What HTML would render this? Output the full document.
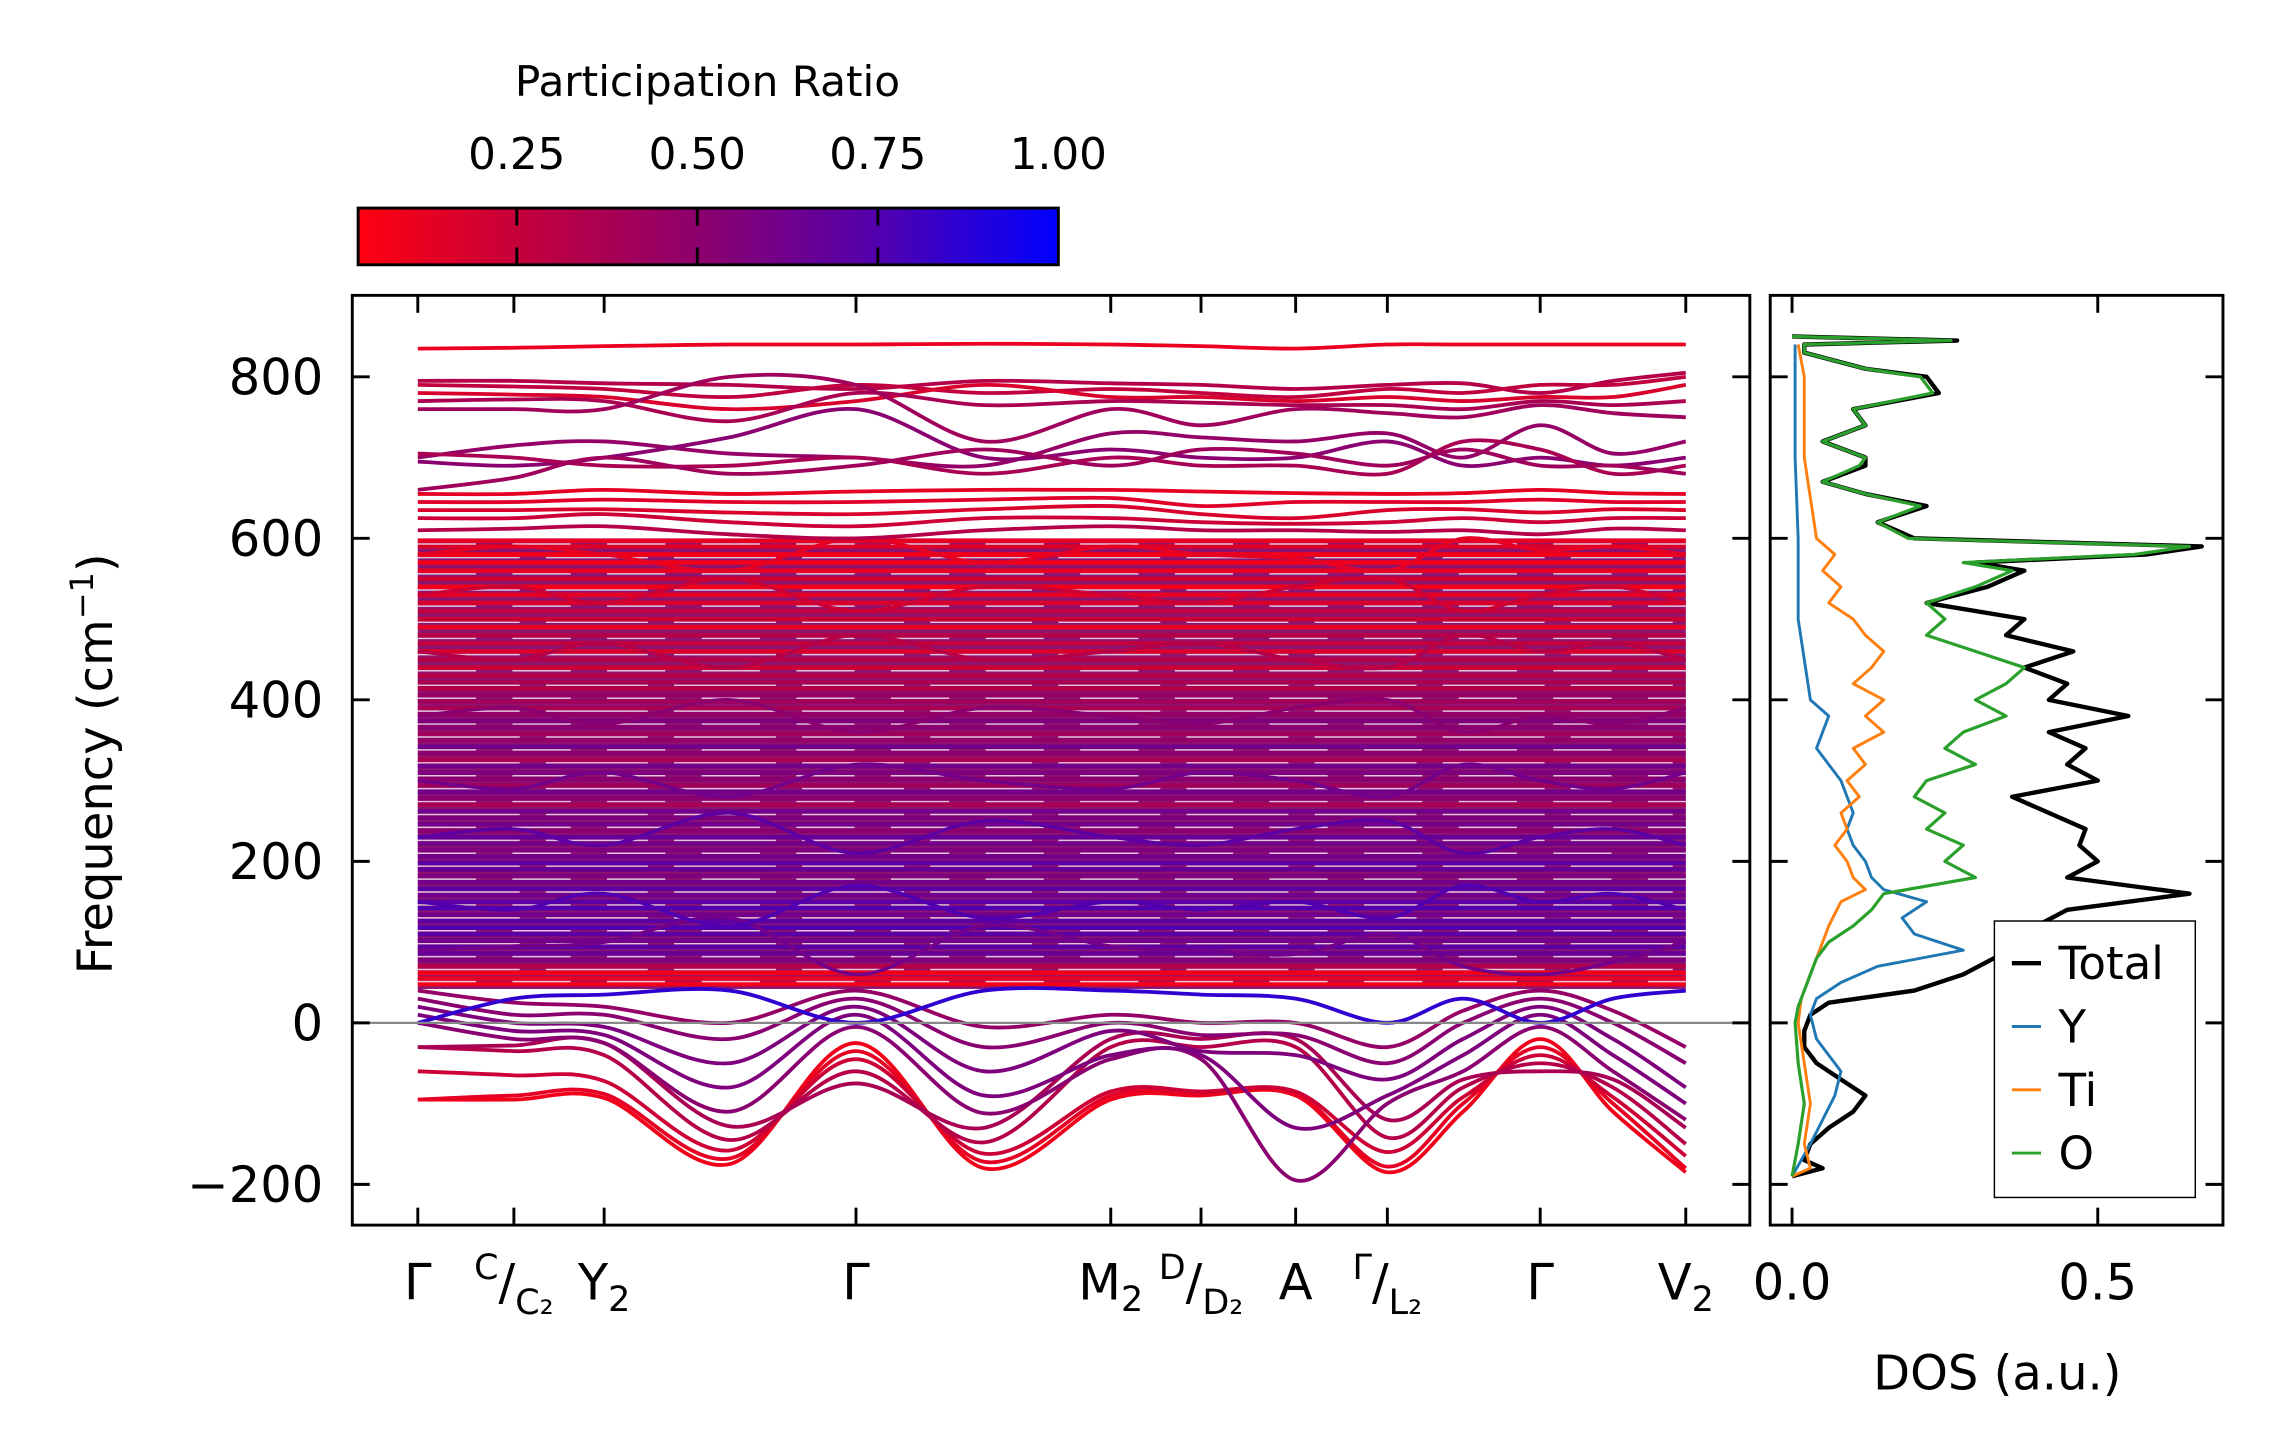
<!DOCTYPE html>
<html><head><meta charset="utf-8"><title>Phonon bands + DOS</title>
<style>
html,body{margin:0;padding:0;background:#fff;}
svg{display:block;font-family:"DejaVu Sans","Liberation Sans",sans-serif;}
</style></head>
<body>
<svg id="fig" width="2271" height="1455" viewBox="0 0 1560 1000" preserveAspectRatio="none" xmlns="http://www.w3.org/2000/svg">
<defs>
<linearGradient id="cmap" x1="0" x2="1" y1="0" y2="0">
<stop offset="0" stop-color="#ff0010"/><stop offset="0.25" stop-color="#c0003f"/>
<stop offset="0.5" stop-color="#8a0070"/><stop offset="0.75" stop-color="#5000b0"/>
<stop offset="1" stop-color="#0000ff"/></linearGradient>
<clipPath id="bandclip"><rect x="242" y="203" width="960" height="639"/></clipPath>
<clipPath id="dosclip"><rect x="1216" y="203" width="311" height="639"/></clipPath>
</defs>
<g>
<text x="486" y="66" font-size="29" text-anchor="middle">Participation Ratio</text>
<rect x="246" y="143" width="481" height="39" fill="url(#cmap)" stroke="#000" stroke-width="2"/>
<g id="cbticks"></g>
</g>
<g>
<g id="bands" clip-path="url(#bandclip)"></g>
<rect x="242" y="203" width="960" height="639" fill="none" stroke="#000" stroke-width="2"/>
<g id="bandaxes"></g>
<text transform="translate(77,525) rotate(-90)" font-size="33" text-anchor="middle">Frequency (cm<tspan dy="-13" font-size="22">−1</tspan><tspan dy="13">)</tspan></text>
</g>
<g>
<g id="dos" clip-path="url(#dosclip)"></g>
<rect x="1216" y="203" width="311" height="639" fill="none" stroke="#000" stroke-width="2"/>
<g id="dosaxes"></g>
<text x="1372" y="955" font-size="33" text-anchor="middle">DOS (a.u.)</text>
<g>
<rect x="1370" y="633" width="138" height="190" fill="#fff" stroke="#000" stroke-width="1"/>
<g id="legend"></g>
</g>
</g>
</svg>
<script>
// ---------- data ----------
const kDist = [0,66,128,214,301,389,476,538,603,666,718,771,821,871];
const kTickDist = [0,66,128,301,476,538,603,666,771,871];
const yTicks = [-200,0,200,400,600,800];
const cbTicks = [0.25,0.5,0.75,1.0];
const cbTickLabels = ["0.25","0.50","0.75","1.00"];
const lowBands = [
[-95,-95,-93,-175,-25,-180,-95,-90,-90,-185,-110,-20,-110,-185],
[-95,-90,-88,-168,-35,-172,-90,-88,-88,-178,-100,-30,-100,-180],
[-60,-65,-72,-158,-45,-162,-85,-85,-85,-160,-92,-40,-92,-165],
[-30,-35,-40,-145,-60,-148,-30,-30,-30,-142,-80,-50,-80,-150],
[-30,-28,-25,-128,-75,-130,-20,-20,-20,-120,-70,-60,-70,-130],
[0,-20,-25,-110,-5,-112,-45,-45,-195,-100,-60,-5,-60,-120],
[10,-10,-15,-80,10,-90,-40,-40,-130,-90,-40,10,-40,-100],
[20,0,-5,-50,20,-60,-10,-35,-40,-70,-20,20,-20,-80],
[30,10,10,-20,30,-30,0,-15,-15,-50,0,30,0,-50],
[40,25,20,0,40,-5,10,0,0,-30,15,40,15,-30],
[0,30,35,40,0,40,40,35,30,0,30,0,30,40]
];
const lowRatios = [0.05,0.1,0.2,0.3,0.35,0.5,0.55,0.55,0.5,0.45,0.85];
const highBands = [
[835,836,838,840,840,841,840,838,835,840,840,840,840,840],
[795,795,792,790,785,795,792,790,785,790,792,780,795,805],
[790,788,785,775,790,780,785,780,775,785,780,790,790,800],
[780,778,775,760,770,790,775,775,770,775,770,775,775,790],
[770,772,770,745,780,765,770,768,765,765,760,770,765,770],
[760,760,760,800,790,720,760,740,760,755,750,765,755,750],
[700,715,720,705,700,690,730,725,720,730,700,740,705,720],
[695,690,700,725,760,700,710,700,700,720,690,700,690,700],
[705,700,690,690,700,680,700,690,690,680,720,710,680,690],
[660,675,700,680,690,710,690,710,705,690,710,690,690,680],
[655,655,660,655,658,660,660,658,656,655,656,660,656,655],
[645,645,648,645,645,648,650,640,645,645,645,648,645,645],
[635,635,636,632,630,636,640,630,625,635,636,632,636,635],
[625,625,630,620,615,625,625,620,618,620,625,620,625,625],
[610,612,615,605,600,610,615,610,610,608,610,605,612,610]
];
const highRatios = [0.08,0.3,0.25,0.15,0.35,0.4,0.45,0.5,0.35,0.4,0.1,0.12,0.15,0.2,0.3];
const denseFreqs = [48,55,62,70,78,86,94,102,110,118,126,134,142,150,158,166,174,182,190,198,206,214,222,230,238,246,254,262,270,278,286,294,302,310,318,326,334,342,350,358,366,374,382,390,398,406,414,422,430,440,450,460,470,480,490,500,510,520,530,540,550,560,570,580,590,597];
const denseRatios = [0.05,0.1,0.05,0.3,0.55,0.65,0.7,0.6,0.7,0.75,0.7,0.6,0.75,0.7,0.6,0.7,0.6,0.55,0.65,0.7,0.6,0.55,0.6,0.65,0.5,0.6,0.55,0.6,0.35,0.5,0.6,0.4,0.5,0.55,0.6,0.35,0.5,0.6,0.45,0.4,0.5,0.55,0.45,0.35,0.4,0.45,0.3,0.35,0.3,0.2,0.3,0.15,0.25,0.3,0.1,0.2,0.25,0.15,0.1,0.05,0.2,0.1,0.05,0.05,0.15,0.1];
// wavy bands crossing the dense region
const wavyBands = [
[90,95,100,130,60,120,95,90,85,110,70,60,75,100],
[150,140,160,120,170,130,150,140,150,130,170,150,160,140],
[230,240,220,260,210,250,230,220,240,250,210,230,240,220],
[300,290,310,280,320,300,290,310,300,280,320,300,290,310],
[380,390,370,400,360,390,380,370,390,400,360,380,370,390],
[460,450,470,440,480,450,460,470,450,440,480,460,470,450],
[530,540,520,550,510,540,530,520,540,550,510,530,540,520],
[580,590,580,560,600,570,590,580,575,560,600,585,590,580]
];
const wavyRatios = [0.6,0.75,0.7,0.6,0.5,0.3,0.2,0.1];
const dosFreqTotal = [-190,-180,-170,-150,-130,-110,-90,-70,-50,-30,-10,10,25,40,60,80,100,120,140,160,180,200,220,240,260,280,300,320,340,360,380,400,420,440,460,480,500,520,540,560,570,580,590,600,620,640,655,670,690,700,720,740,760,780,800,810,830,840,845,850];
const dosTotal = [0,0.05,0.02,0.03,0.06,0.10,0.12,0.08,0.04,0.02,0.02,0.03,0.06,0.2,0.28,0.33,0.38,0.40,0.45,0.65,0.45,0.50,0.47,0.48,0.42,0.36,0.50,0.45,0.48,0.42,0.55,0.42,0.45,0.38,0.46,0.35,0.38,0.22,0.32,0.38,0.30,0.58,0.67,0.20,0.14,0.22,0.12,0.05,0.12,0.12,0.05,0.12,0.10,0.24,0.22,0.12,0.02,0.02,0.27,0];
const dosFreqO = [-190,-150,-100,-50,0,20,40,60,80,100,120,140,160,180,200,220,240,260,280,300,320,340,360,380,400,420,440,460,480,500,520,540,560,570,580,590,600,620,640,655,670,690,700,720,740,760,780,800,810,830,840,845,850];
const dosO = [0,0.01,0.02,0.01,0.005,0.01,0.02,0.03,0.04,0.06,0.10,0.13,0.15,0.30,0.25,0.28,0.22,0.25,0.20,0.22,0.30,0.25,0.28,0.35,0.30,0.35,0.38,0.30,0.22,0.25,0.22,0.30,0.36,0.28,0.56,0.65,0.19,0.14,0.21,0.12,0.05,0.11,0.12,0.05,0.12,0.10,0.23,0.21,0.12,0.02,0.02,0.26,0];
const dosFreqTi = [-190,-180,-150,-100,-50,0,30,60,80,100,120,150,165,180,200,220,240,260,280,300,320,340,360,380,400,420,440,460,480,500,520,540,560,580,600,650,700,800,840];
const dosTi = [0,0.03,0.02,0.03,0.02,0.01,0.015,0.03,0.04,0.05,0.06,0.08,0.12,0.10,0.09,0.07,0.09,0.08,0.11,0.09,0.12,0.10,0.15,0.12,0.15,0.10,0.13,0.15,0.12,0.10,0.06,0.08,0.05,0.07,0.04,0.03,0.02,0.02,0.01];
const dosFreqY = [-190,-150,-120,-90,-60,-20,10,30,50,70,90,110,130,150,165,180,200,220,240,260,280,300,320,340,360,380,400,450,500,600,700,840];
const dosY = [0,0.03,0.05,0.07,0.08,0.04,0.03,0.04,0.08,0.14,0.28,0.20,0.18,0.22,0.15,0.13,0.12,0.10,0.09,0.10,0.09,0.08,0.06,0.04,0.05,0.06,0.03,0.02,0.01,0.01,0.005,0.005];
const legendLabels = ["Total","Y","Ti","O"];
const legendColors = ["#000000","#1f77b4","#ff7f0e","#2ca02c"];

// ---------- scales ----------
const NS="http://www.w3.org/2000/svg";
const xK = k => 287 + k*(1158-287)/871;
const yF = f => 703 - f*0.555;
const xD = v => 1231 + v*420;
const xCB = v => 231 + v*(727-231);
function mk(tag, attrs, parent){const e=document.createElementNS(NS,tag);for(const a in attrs)e.setAttribute(a,attrs[a]);parent.appendChild(e);return e;}
function ratioColor(r){
  const stops=[[0,[255,0,16]],[0.25,[192,0,63]],[0.5,[138,0,112]],[0.75,[80,0,176]],[1,[0,0,255]]];
  for(let i=0;i<stops.length-1;i++){const a=stops[i],b=stops[i+1];
    if(r<=b[0]){const t=(r-a[0])/(b[0]-a[0]);return 'rgb('+a[1].map((c,j)=>Math.round(c+(b[1][j]-c)*t)).join(',')+')';}}
  return 'rgb(0,0,255)';
}
function smoothPath(pts){
  let d='M'+pts[0][0]+','+pts[0][1];
  for(let i=0;i<pts.length-1;i++){
    const p0=pts[Math.max(0,i-1)],p1=pts[i],p2=pts[i+1],p3=pts[Math.min(pts.length-1,i+2)];
    const c1=[p1[0]+(p2[0]-p0[0])/6,p1[1]+(p2[1]-p0[1])/6];
    const c2=[p2[0]-(p3[0]-p1[0])/6,p2[1]-(p3[1]-p1[1])/6];
    d+=' C'+c1[0]+','+c1[1]+' '+c2[0]+','+c2[1]+' '+p2[0]+','+p2[1];
  }
  return d;
}
const bands=document.getElementById('bands');
const bg=mk('rect',{x:xK(0),y:yF(600),width:xK(871)-xK(0),height:yF(42)-yF(600),fill:'#8c1470'},bands);


denseFreqs.forEach((f,i)=>{
  const l=mk('line',{x1:xK(0),x2:xK(871),y1:yF(f),y2:yF(f),stroke:ratioColor(denseRatios[i]),'stroke-width':3.2},bands);
  
  
});
denseFreqs.forEach((f,i)=>{ if(i%2===1){
  const l=mk('line',{x1:xK(0),x2:xK(871),y1:yF(f)+2.2,y2:yF(f)+2.2,stroke:'#ffffff','stroke-width':1,'stroke-opacity':0.75,'stroke-dasharray':(i%4===1?'40 25':'70 18')},bands);
  
  
}});
function drawBand(vals,r,name,w){
  const pts=vals.map((v,i)=>[xK(kDist[i]),yF(v)]);
  const p=mk('path',{d:smoothPath(pts),fill:'none',stroke:ratioColor(r),'stroke-width':w||2.6},bands);
  
  
}
wavyBands.forEach((b,i)=>drawBand(b,wavyRatios[i],'dense-wavy-band-'+i,2.4));
highBands.forEach((b,i)=>drawBand(b,highRatios[i],'high-band-'+i));
lowBands.forEach((b,i)=>drawBand(b,lowRatios[i],'low-band-'+i));
const zl=mk('line',{x1:242,x2:1202,y1:yF(0),y2:yF(0),stroke:'#888','stroke-width':1.6},bands);



const ba=document.getElementById('bandaxes');
yTicks.forEach(t=>{
  const y=yF(t);
  mk('line',{x1:242,x2:254,y1:y,y2:y,stroke:'#000','stroke-width':2},ba);
  mk('line',{x1:1190,x2:1202,y1:y,y2:y,stroke:'#000','stroke-width':2},ba);
  mk('line',{x1:1216,x2:1228,y1:y,y2:y,stroke:'#000','stroke-width':2},ba);
  mk('line',{x1:1515,x2:1527,y1:y,y2:y,stroke:'#000','stroke-width':2},ba);
  const tx=mk('text',{x:222,y:y+12,'font-size':34,'text-anchor':'end'},ba);
  tx.textContent=(t<0?'−':'')+Math.abs(t);
  
  
});
kTickDist.forEach(k=>{
  const x=xK(k);
  mk('line',{x1:x,x2:x,y1:203,y2:215,stroke:'#000','stroke-width':2},ba);
  mk('line',{x1:x,x2:x,y1:830,y2:842,stroke:'#000','stroke-width':2},ba);
});
const kLabelHTML=[
 [287,'Γ'],[353,'<tspan dy="-14" font-size="24">C</tspan><tspan dy="14">/</tspan><tspan dy="10" font-size="24">C₂</tspan>'],
 [415,'Y<tspan dy="8" font-size="24">2</tspan>'],[588,'Γ'],
 [763,'M<tspan dy="8" font-size="24">2</tspan>'],[825,'<tspan dy="-14" font-size="24">D</tspan><tspan dy="14">/</tspan><tspan dy="10" font-size="24">D₂</tspan>'],
 [890,'A'],[953,'<tspan dy="-14" font-size="24">Γ</tspan><tspan dy="14">/</tspan><tspan dy="10" font-size="24">L₂</tspan>'],
 [1058,'Γ'],[1158,'V<tspan dy="8" font-size="24">2</tspan>']];
kLabelHTML.forEach(([x,h])=>{
  const t=mk('text',{x:x,y:893,'font-size':34,'text-anchor':'middle'},ba);
  t.innerHTML=h;
  
  
});

const cb=document.getElementById('cbticks');
cbTicks.forEach((v,i)=>{
  const x=xCB(v);
  if(v<1){mk('line',{x1:x,x2:x,y1:143,y2:155,stroke:'#000','stroke-width':2},cb);
  mk('line',{x1:x,x2:x,y1:170,y2:182,stroke:'#000','stroke-width':2},cb);}
  const t=mk('text',{x:x,y:116,'font-size':30,'text-anchor':'middle'},cb);
  t.textContent=cbTickLabels[i];
  
  
});

const dosG=document.getElementById('dos');
function drawDos(fr,vals,color,w,name){
  const d=fr.map((f,i)=>(i?'L':'M')+xD(vals[i])+','+yF(f)).join(' ');
  const p=mk('path',{d:d,fill:'none',stroke:color,'stroke-width':w,'stroke-linejoin':'round'},dosG);
  
  
}
drawDos(dosFreqTotal,dosTotal,'#000',3,'dos-total-line');
drawDos(dosFreqY,dosY,'#1f77b4',2,'dos-y-line');
drawDos(dosFreqTi,dosTi,'#ff7f0e',2,'dos-ti-line');
drawDos(dosFreqO,dosO,'#2ca02c',2.2,'dos-o-line');
const da=document.getElementById('dosaxes');
[[0,'0.0'],[0.5,'0.5']].forEach(([v,l])=>{
  const x=xD(v);
  mk('line',{x1:x,x2:x,y1:203,y2:215,stroke:'#000','stroke-width':2},da);
  mk('line',{x1:x,x2:x,y1:830,y2:842,stroke:'#000','stroke-width':2},da);
  const t=mk('text',{x:x,y:893,'font-size':34,'text-anchor':'middle'},da);
  t.textContent=l;
  
  
});
const lg=document.getElementById('legend');
legendLabels.forEach((l,i)=>{
  const y=662+i*43.5;
  const ln=mk('line',{x1:1382,x2:1402,y1:y,y2:y,stroke:legendColors[i],'stroke-width':i?2:3},lg);
  
  
  const t=mk('text',{x:1414,y:y+11,'font-size':31},lg);
  t.textContent=l;
  
  
});
</script>
</body></html>
